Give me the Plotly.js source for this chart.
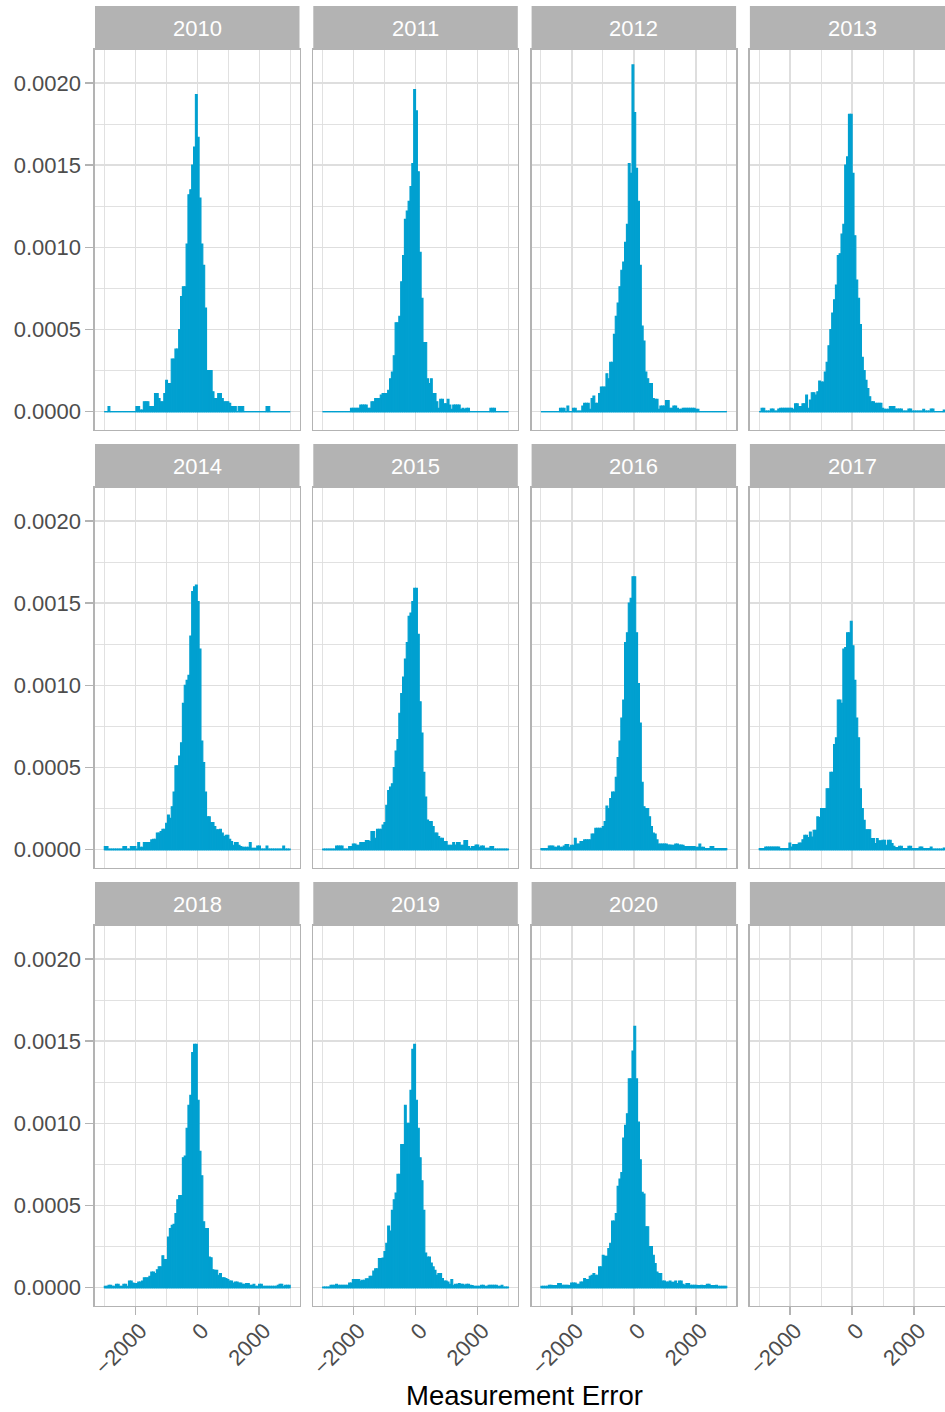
<!DOCTYPE html>
<html><head><meta charset="utf-8">
<script src="https://cdn.plot.ly/plotly-3.0.1.min.js"></script>
<style>
html,body{margin:0;padding:0;overflow:hidden;background:#fff;width:945px;height:1412px}
#chart{width:956px;height:1412px}
</style>
</head><body><div id="chart"></div>
<script>
// Facet labels
const years = ['2010','2011','2012','2013','2014','2015','2016','2017','2018','2019','2020'];
// Histogram bin centres (bin width 60)
const binCenters = [-2970,-2910,-2850,-2790,-2730,-2670,-2610,-2550,-2490,-2430,
-2370,-2310,-2250,-2190,-2130,-2070,-2010,-1950,-1890,-1830,
-1770,-1710,-1650,-1590,-1530,-1470,-1410,-1350,-1290,-1230,
-1170,-1110,-1050,-990,-930,-870,-810,-750,-690,-630,
-570,-510,-450,-390,-330,-270,-210,-150,-90,-30,
30,90,150,210,270,330,390,450,510,570,
630,690,750,810,870,930,990,1050,1110,1170,
1230,1290,1350,1410,1470,1530,1590,1650,1710,1770,
1830,1890,1950,2010,2070,2130,2190,2250,2310,2370,
2430,2490,2550,2610,2670,2730,2790,2850,2910,2970];
const binWidth = 60;
// Densities below are written in units of 1e-5 (density x 100000)
const densityUnit = 1e-5;
const d2010 = [0,0,3,0,0,0,0,0,0,0, 0,0,0,0,0,0,0,3,3,1, 1,6,6,6,3,3,3,11,11,8, 6,6,11,19,17,17,32,32,38,38,
 50,70,76,76,102,132,135,150,161,193, 167,130,102,89,63,25,25,25,12,8, 8,11,11,8,6,6,6,5,3,3, 3,0,3,3,3,0,0,0,0,0,
 0,0,0,0,0,0,0,3,3,0, 0,0,0,0,0,0,0,0,0,0];
const d2011 = [0,0,0,0,0,0,0,0,0,0, 0,0,0,0,0,2,2,2,2,2, 4,4,4,4,2,2,6,6,8,8, 8,10,11,11,11,13,20,24,34,54,
 54,58,79,95,117,122,128,137,151,196, 183,146,97,69,42,42,20,17,20,11, 11,6,2,7.5,7.5,4.7,4.7,7.5,4,1.4,
 4,4,4,4,1.4,2,1.4,2,2,0, 0,0,0,0,0,0,0,0,0,0, 2,2,2,0,0,0,0,0,0,0];
const d2012 = [0,0,0,0,0,0,0,0,0,0, 2,2,2,0,3.4,0,0,2,2,0.4, 0.4,0.4,3.4,5,5,5,1.4,8,9.5,5, 5,11,15,15,15,23,20,30,30,47,
 58,66,76,86,91,103,114,151,145,211, 182,148,128,89,52,43,24,20,17,17, 8,7.5,7.5,1.4,3.4,3.4,3.4,6.7,6.7,2,
 2,3.4,3.4,2,1.4,1.4,2,2,2,2, 2,2,2,1.4,1.4,0,0,0,0,0, 0,0,0,0,0,0,0,0,0,0];
const d2013 = [0,2,2,0.4,0.4,0.4,1.6,1.6,0.4,0.4, 1.6,2,2,2,2,2,2,2,1.4,4.7, 4.7,3,3,4.7,4.7,10,2,7,11.5,11.5,
 10,12,18.6,18,18,24,30,40,50,60, 68,77,95,96,108,114,150,155,181,181, 145,107,80,69,53,33,25,19,14,9,
 6,6,5,5,5,5,2,1.4,1.4,1.4, 3,3,3,1.6,1.6,1.6,1.6,0.4,0.4,0.4, 1.6,1.6,0.4,0.4,0.4,0.4,0.4,0.4,1.4,0.4,
 0.4,0.4,1.6,1.6,0,0,0,0,0,1];
const d2014 = [1.8,1.8,0.4,0.4,0.4,0.4,0.4,0.4,0.4,0.4, 1.8,1.8,0.4,0.4,1.8,1.8,1.8,0.4,4.3,1.4, 1.4,4.3,4.3,4.3,4.3,5.9,6.3,6.3,10,10,
 11,12.4,12.4,16,21,19,26,35,51,51, 57,65,89,100,103,106,130,157,160,161, 151,122,66,53,35,20,20,16.4,16.4,14,
 12,12,12.4,10,7.9,8.7,8.7,6.3,4.9,2.6, 4.3,4.3,2.6,1.8,1.4,1.4,1.4,1.4,4.3,0.8, 0.8,0.8,2.2,2.2,0.4,0.4,0.4,2.2,0.4,0.4,
 0.4,0.4,0.4,0.4,0.4,0.4,2.2,0.4,0.4,0.4];
const d2015 = [0.4,0.4,0.4,0.4,0.4,0.4,0.4,2.2,2.2,2.2, 2.2,0.4,0.4,0.4,1.8,1.8,3.4,3.4,2.6,2.6, 4.3,4.3,4.3,5.5,5.5,4.9,11,11,6.9,12.4,
 12.4,12.4,15,16.4,27,36,38,40,50,60, 67,83,95,105,116,126,142,144,151,159, 159,131,90,71,47,32,18,17,17,14,
 10,10,7.9,6.9,6.9,4.9,4.9,2.6,2.6,2.6, 4.3,2.8,4.3,4.3,2.6,2.6,5.5,5.5,1.8,0.8, 1.8,1.8,2.8,2.8,1.4,2.2,2.2,0.8,0.8,0.8,
 1.8,1.8,0.4,0.4,0.4,0.4,0.4,0.4,0.4,0.4];
const d2016 = [0.6,0.6,0.6,0.6,2.2,2.2,2.2,1.4,1.4,2.2, 1.4,1.4,2.2,3,3,1.4,2.6,2.6,6.9,3.4, 3.4,4.9,4.9,5.9,5.9,5.9,5.9,9.5,9.5,13,
 13,13,13,14,17,26.5,25,31,35,35, 44,56,66,80,91,126,132,150,153,166, 166,132,101,77,41,26,25,25,20,14,
 10,9.5,5.9,3.4,3.4,3.4,3.4,3.4,2.8,2.8, 2.6,2.6,3.4,3.4,2.8,2.8,2.6,1.8,1.8,1.8, 1.8,1.8,1.8,1.4,1.4,3.4,1.4,1.4,0.6,0.6,
 0.6,1.8,1.8,0.6,0.6,0.6,0.6,0.6,0.6,0.6];
const d2017 = [0.6,0.6,0.6,1.6,1.6,1.6,1.6,1.6,1.6,1.6, 1.6,0.6,0.6,0.6,0.6,0.6,4,1.6,3,3, 3,4,4,6,8.7,8.7,7.3,10.7,7.7,11.8,
 11.8,19.9,19.5,25,25,25,37,37,47,47, 64,68,91,91,89,122,123,132,132,139, 124,103,80,68,37,25,17.8,12,12,12,
 6.7,6.7,3.6,6.7,5.3,5.3,5.7,5.7,2.6,5.7, 5.7,3.6,2,1.2,1.2,2,2,0.6,0.6,0.6, 2,2,0.6,0.6,0.6,0.6,1.6,1.6,0.6,0.6,
 0.6,0.6,1.6,0.4,0.4,0.4,0.4,0.4,0.4,1];
const d2018 = [0.8,0.8,1.4,1.4,0.8,0.8,2,2,0.8,0.8, 2,2,0.8,4,4,2.8,2.4,2.4,3.4,3.4, 4,5.9,5.9,5.9,6.9,9.5,9.5,8.5,10.9,12.6,
 12.6,19.4,17,17,30.8,35.9,37.9,38.5,45,53.5, 56,56,79,80,97,111,117,143,148,148, 114,83,68,40,36,36,18.6,18.2,10.9,10.5,
 10.5,7.5,8.5,6,6,5.5,4.9,4,4,2.8, 3.4,3.4,2.8,2.8,2,2,2.4,2.4,1.4,1.4, 2,0.8,0.8,2,2,0.8,0.8,0.8,0.8,0.8,
 0.8,0.8,0.8,1.4,2,2,0.8,1.4,1.4,1.4];
const d2019 = [0.4,0.4,0.4,0.4,1.4,1.4,1.4,2,1.4,1.4, 1.4,1.4,1.4,1.4,2.8,2.8,4.9,4.9,4.9,4.9, 4,4.5,4.5,5.3,5.3,6.9,6.9,10,11.5,11.5,
 17.6,17.6,18,22,27,37.5,34.4,47,53.5,57.5, 69,69,87,87,111,100,100,120,145,148, 114,97,79,65,47,21,18.6,18.6,14.9,12.6,
 10.5,7.5,8.5,8.5,5.5,4,4,3.4,2,4.9, 1.4,2,2,2.4,2,2,1.4,2,2,1.4, 1.2,0.8,0.8,0.8,0.8,1.4,1.4,0.8,0.8,1.4,
 1.4,1.4,1.4,1.4,0.8,0.8,1.4,0.4,0.4,0.4];
const d2020 = [0.8,0.8,0.8,0.8,1.4,1.4,1.2,1.2,1.2,2.4, 2.4,1.4,1.4,1.4,1.4,1.2,2.8,2.8,2.8,2, 2,3.4,3.4,5.5,4.9,4.9,6.9,7.5,8.5,7.5,
 7.5,12.6,12.6,19.7,19,19,23.7,27,40.5,40.5, 45,61.6,66,70,91,98.7,105.8,127,127,144, 159,127,100.7,77.8,58,57,37,37,25,25,
 19.7,14.6,9.5,8.5,8.5,4,4,3.4,3.4,4, 3.2,3.2,4,2.4,4,4,2,1.4,2.4,2.4, 1.4,1.4,1.4,1.4,1.2,1.2,1.4,1.2,1.2,2,
 2,1.2,1.2,1.2,1.4,0.8,0.8,0.8,0.8,0.8];
const seriesByYear = [d2010,d2011,d2012,d2013,d2014,d2015,d2016,d2017,d2018,d2019,d2020];
const xTickVals = [-2000,0,2000];
const yTickVals = [0,0.0005,0.0010,0.0015,0.0020];
const xTitle = 'Measurement Error';

// ---- styling / layout ----
const W = 956, H = 1412;
const BLUE = '#00A0D0';
const FONT = 'Liberation Sans, Arial, Helvetica, sans-serif';
const colLeft = [95, 313.3, 531.6, 749.9], panelW = 204.5;
const rowTop = [50, 488, 926], panelH = 379.5, stripH = 44;
const xRange = [-3300, 3300];
const yRange = [-0.000109, 0.0022006];

const data = [];
const layout = {
  width: W, height: H, margin: {l:0, r:0, t:0, b:0},
  paper_bgcolor: '#fff', plot_bgcolor: '#fff',
  font: {family: FONT, size: 22, color: '#4D4D4D'},
  showlegend: false, bargap: 0, barmode: 'overlay',
  shapes: [], annotations: []
};

for (let k = 0; k < 12; k++) {
  const r = Math.floor(k / 4), c = k % 4;
  const sfx = k === 0 ? '' : String(k + 1);
  const x0 = colLeft[c] / W, x1 = (colLeft[c] + panelW) / W;
  const yTop = 1 - rowTop[r] / H, yBot = 1 - (rowTop[r] + panelH) / H;
  const bottomRow = (r === 2);
  const firstCol = (c === 0);
  layout['xaxis' + sfx] = {
    domain: [x0, x1], anchor: 'y' + sfx, range: xRange, fixedrange: true,
    tickmode: 'array', tickvals: xTickVals,
    showticklabels: bottomRow, ticks: bottomRow ? 'outside' : '',
    ticklen: 8, tickwidth: 1.5, tickcolor: '#B3B3B3', tickangle: -45,
    ticklabelstandoff: -6, ticklabelshift: 5,
    tickfont: {family: FONT, size: 22, color: '#4D4D4D'},
    showgrid: true, gridcolor: '#DEDEDE', gridwidth: 1.4,
    minor: {tickmode: 'linear', tick0: 0, dtick: 1000, showgrid: true, gridcolor: '#DEDEDE', gridwidth: 0.9, ticks: ''},
    showline: true, mirror: true, linecolor: '#B3B3B3', linewidth: 1.6, zeroline: false
  };
  layout['yaxis' + sfx] = {
    domain: [yBot, yTop], anchor: 'x' + sfx, range: yRange, fixedrange: true,
    tickmode: 'array', tickvals: yTickVals, tickformat: '.4f',
    showticklabels: firstCol, ticks: firstCol ? 'outside' : '',
    ticklen: 8, tickwidth: 1.5, tickcolor: '#B3B3B3',
    tickfont: {family: FONT, size: 22, color: '#4D4D4D'},
    showgrid: true, gridcolor: '#DEDEDE', gridwidth: 1.4,
    minor: {tickmode: 'linear', tick0: 0, dtick: 0.00025, showgrid: true, gridcolor: '#DEDEDE', gridwidth: 0.9, ticks: ''},
    showline: true, mirror: true, linecolor: '#B3B3B3', linewidth: 1.6, zeroline: false
  };
  // strip
  layout.shapes.push({type: 'rect', xref: 'paper', yref: 'paper',
    x0: x0, x1: x1, y0: yTop, y1: 1 - (rowTop[r] - stripH) / H,
    fillcolor: '#B3B3B3', line: {width: 0}, layer: 'above'});
  if (k < years.length) {
    layout.annotations.push({xref: 'paper', yref: 'paper', x: (x0 + x1) / 2,
      y: 1 - (rowTop[r] - stripH / 2) / H, text: years[k], showarrow: false,
      xanchor: 'center', yanchor: 'middle', font: {family: FONT, size: 22, color: '#FFFFFF'}});
    const vals = seriesByYear[k];
    data.push({type: 'bar', x: binCenters, y: vals.map(v => v * densityUnit), width: binWidth,
      xaxis: 'x' + sfx, yaxis: 'y' + sfx, hoverinfo: 'skip',
      marker: {color: BLUE, line: {color: BLUE, width: 1.1}}});
    data.push({type: 'scatter', mode: 'lines', hoverinfo: 'skip',
      x: [binCenters[0] - binWidth / 2, binCenters[binCenters.length - 1] + binWidth / 2], y: [0, 0],
      xaxis: 'x' + sfx, yaxis: 'y' + sfx, line: {color: BLUE, width: 1.4}});
  } else {
    data.push({type: 'scatter', mode: 'markers', x: [], y: [], xaxis: 'x' + sfx, yaxis: 'y' + sfx});
  }
}
layout.annotations.push({xref: 'paper', yref: 'paper',
  x: (colLeft[0] + colLeft[3] + panelW) / 2 / W, y: 1 - 1395 / H,
  text: xTitle, showarrow: false, xanchor: 'center', yanchor: 'middle',
  font: {family: FONT, size: 27.5, color: '#000000'}});

Plotly.newPlot('chart', data, layout, {staticPlot: true, displayModeBar: false});
</script>
</body></html>
